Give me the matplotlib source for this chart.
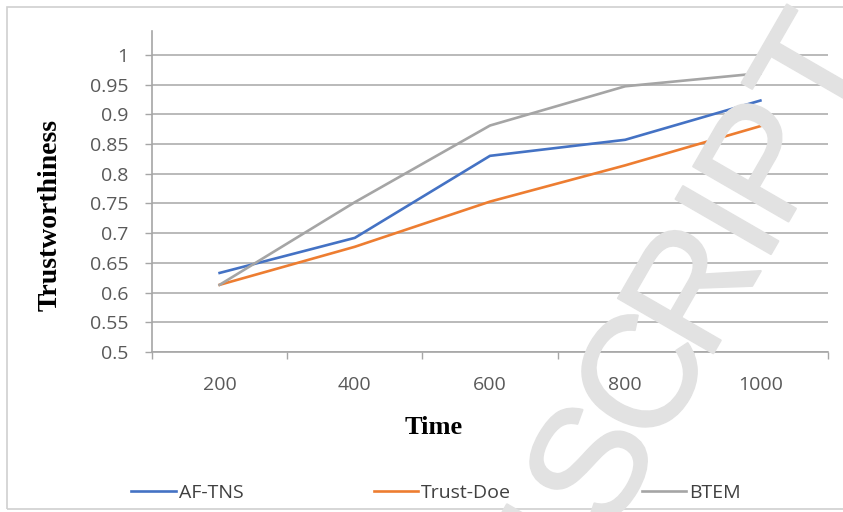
import numpy as np
import matplotlib
matplotlib.use("Agg")
import matplotlib.pyplot as plt
import matplotlib.patheffects as pe
from matplotlib.patches import Rectangle

# Datos
times = ["200", "400", "600", "800", "1000"]
af_tns = [0.633, 0.692, 0.830, 0.857, 0.923]
trust_doe = [0.613, 0.677, 0.753, 0.814, 0.880]
btem = [0.613, 0.752, 0.881, 0.947, 0.969]
y_ticks = [0.5, 0.55, 0.6, 0.65, 0.7, 0.75, 0.8, 0.85, 0.9, 0.95, 1]
y_labels = ["0.5", "0.55", "0.6", "0.65", "0.7", "0.75", "0.8", "0.85", "0.9", "0.95", "1"]

W, H = 843, 512
fig = plt.figure(figsize=(W / 100, H / 100), dpi=100)
ax = fig.add_axes([152 / W, 1 - 352 / H, 676 / W, 321 / H])

tick_font = "Open Sans"
fs = 14
x = np.arange(len(times))

ax.plot(x, af_tns, color="#4472C4", lw=1.9, label="AF-TNS", zorder=3)
ax.plot(x, trust_doe, color="#ED7D31", lw=1.9, label="Trust-Doe", zorder=3)
ax.plot(x, btem, color="#A5A5A5", lw=1.9, label="BTEM", zorder=3)

ax.set_xlim(-0.5, len(times) - 0.5)
ax.set_ylim(0.5, 1.04)

# eje y
ax.set_yticks(y_ticks)
ax.set_yticklabels(y_labels, fontfamily=tick_font, fontsize=fs, color="#595959")
ax.tick_params(axis="y", length=5, width=1, color="#a6a6a6", pad=12)
ax.grid(True, axis="y", color="#bababa", lw=1.4, zorder=0)

# eje x: etiquetas centradas, marcas entre categorias
ax.set_xticks(x)
ax.set_xticklabels(times, fontfamily=tick_font, fontsize=fs, color="#595959")
ax.set_xticks(np.arange(-0.5, len(times), 1), minor=True)
ax.tick_params(axis="x", which="major", length=0, pad=17)
ax.tick_params(axis="x", which="minor", length=5, width=1, color="#a6a6a6")

for s in ["top", "right"]:
    ax.spines[s].set_visible(False)
for s in ["left", "bottom"]:
    ax.spines[s].set_color("#a6a6a6")
    ax.spines[s].set_linewidth(1.2)

fig.text(50 / W, 1 - 215 / H, "Trustworthiness", rotation=90, ha="center", va="center",
         fontfamily="Liberation Serif", fontweight="bold", fontsize=20)
fig.text(434 / W, 1 - 428 / H, "Time", ha="center", va="center",
         fontfamily="Liberation Serif", fontweight="bold", fontsize=19)

leg = fig.legend(loc="center", bbox_to_anchor=(436 / W, 1 - 493 / H), ncol=3, frameon=False,
                 prop={"family": tick_font, "size": fs}, handlelength=2.3,
                 handletextpad=0.15, columnspacing=6.7)
for t in leg.get_texts():
    t.set_color("#404040")

# marco exterior
fig.patches.append(Rectangle((7 / W, 3 / H), 1.0, 1 - 10 / H, transform=fig.transFigure,
                             fill=False, edgecolor="#d0d0d0", lw=1.2))

# marca de agua "...SCRIPT", letra a letra (centros en pixeles)
wm_letters = ["U", "S", "C", "R", "I", "P", "T"]
wm_centers = [(530, 570), (586, 462), (636, 373), (686, 286), (725, 219), (759, 158), (810, 70)]
ang = np.deg2rad(60)
up = np.array([-np.sin(ang), -np.cos(ang)])  # direccion "arriba" de la letra en pantalla
em = 160
for ch, (cx, cy) in zip(wm_letters, wm_centers):
    bx, by = np.array([cx, cy]) - 0.358 * em * up
    fig.text(bx / W, 1 - by / H, ch, rotation=60, rotation_mode="anchor",
             ha="center", va="baseline", fontfamily="Liberation Sans", fontsize=em * 0.72,
             color="#e2e2e2", zorder=10,
             path_effects=[pe.withStroke(linewidth=1.5, foreground="#e2e2e2")])

fig.savefig("out.png", dpi=100)
